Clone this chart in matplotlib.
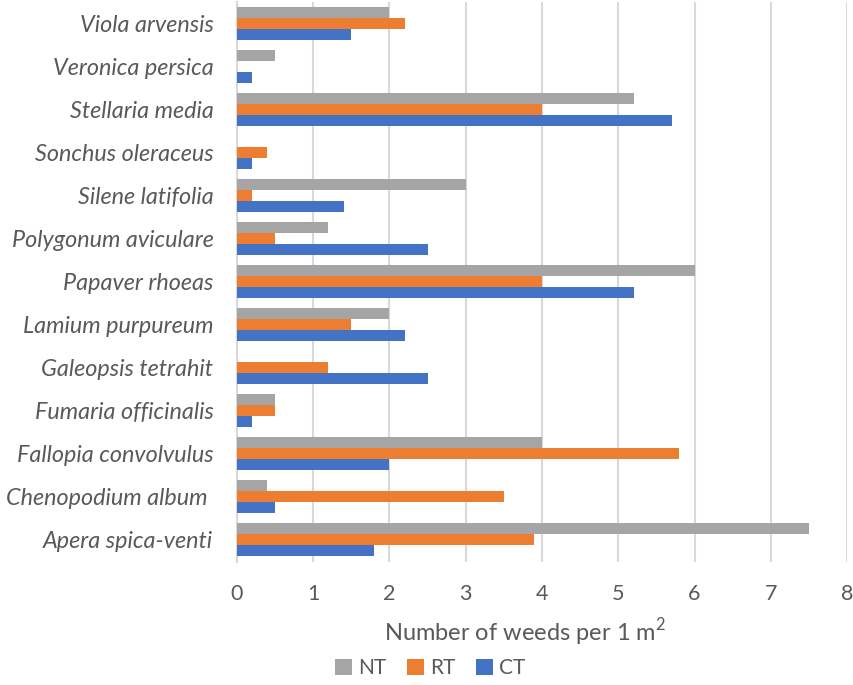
import numpy as np
import matplotlib
matplotlib.use("Agg")
from matplotlib import pyplot as plt

# weed species, listed from bottom to top of the chart
species = ["Apera spica-venti", "Chenopodium album ", "Fallopia convolvulus",
           "Fumaria officinalis", "Galeopsis tetrahit", "Lamium purpureum",
           "Papaver rhoeas", "Polygonum aviculare", "Silene latifolia",
           "Sonchus oleraceus", "Stellaria media", "Veronica persica",
           "Viola arvensis"]

# weeds per 1 m2 for each tillage system
nt = [7.5, 0.4, 4.0, 0.5, 0.0, 2.0, 6.0, 1.2, 3.0, 0.0, 5.2, 0.5, 2.0]
rt = [3.9, 3.5, 5.8, 0.5, 1.2, 1.5, 4.0, 0.5, 0.2, 0.4, 4.0, 0.0, 2.2]
ct = [1.8, 0.5, 2.0, 0.2, 2.5, 2.2, 5.2, 2.5, 1.4, 0.2, 5.7, 0.2, 1.5]

plt.rcParams['font.family'] = ['Lato', 'DejaVu Sans']
plt.rcParams['mathtext.fontset'] = 'custom'
plt.rcParams['mathtext.rm'] = 'Lato'
txt_color = '#595959'

fig = plt.figure(figsize=(8.54, 6.85), dpi=100)
ax = fig.add_axes([237 / 854, 1 - 561.5 / 685, 610 / 854, 560 / 685])

y = np.arange(len(species))
h = 0.255
ax.barh(y - h, ct, height=h, color='#4472C4', label='CT', zorder=3)
ax.barh(y, rt, height=h, color='#ED7D31', label='RT', zorder=3)
ax.barh(y + h, nt, height=h, color='#A5A5A5', label='NT', zorder=3)

ax.set_xlim(0, 8)
ax.set_ylim(-0.5, len(species) - 0.5)
ax.set_xticks(range(0, 9))
ax.set_yticks(y)
ax.set_yticklabels(species, fontstyle='italic', fontsize=16.8, color=txt_color)
ax.tick_params(axis='x', length=0, pad=16, labelsize=15.5, labelcolor=txt_color)
ax.tick_params(axis='y', length=0, pad=17)

ax.grid(axis='x', color='#d9d9d9', linewidth=1.5, zorder=0)
for side in ['top', 'right', 'bottom']:
    ax.spines[side].set_visible(False)
ax.spines['left'].set_color('#d9d9d9')
ax.spines['left'].set_linewidth(1.5)

fig.text(525 / 854, 1 - 632 / 685, r'Number of weeds per 1 m$^{\mathrm{2}}$',
         ha='center', va='center', fontsize=17, color=txt_color)

handles, labels = ax.get_legend_handles_labels()
fig.legend(handles[::-1], labels[::-1], loc='center', ncol=3,
           bbox_to_anchor=(430 / 854, 1 - 668 / 685), frameon=False,
           fontsize=15, labelcolor=txt_color, handlelength=0.8,
           handleheight=0.8, handletextpad=0.3, columnspacing=1.0)

fig.savefig('out.png', dpi=100)
